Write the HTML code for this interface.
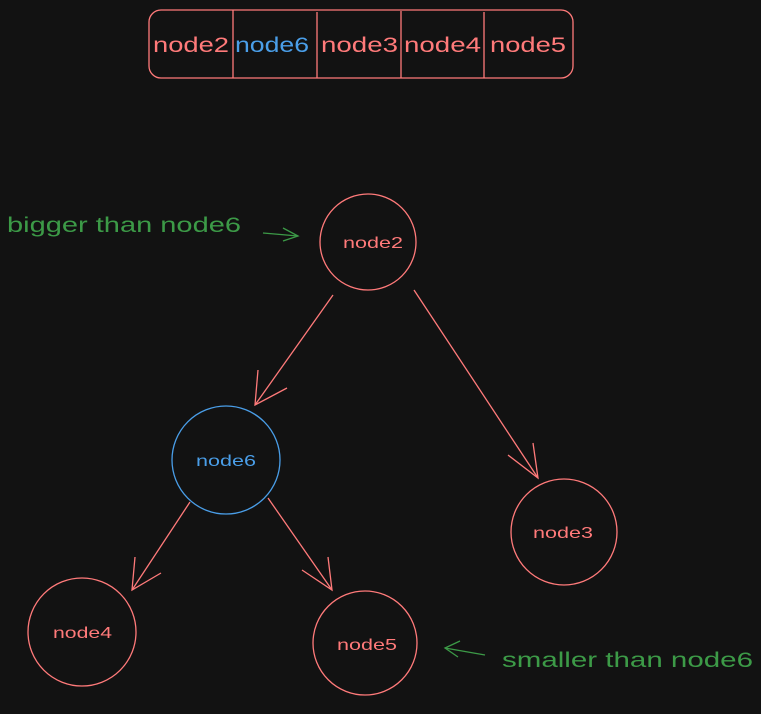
<!DOCTYPE html>
<html><head><meta charset="utf-8"><style>
html,body{margin:0;padding:0;background:#121212;}
svg{display:block}
text{font-family:"Liberation Sans",sans-serif;}
</style></head><body>
<svg width="761" height="714" viewBox="0 0 761 714" xmlns="http://www.w3.org/2000/svg">
<rect width="761" height="714" fill="#121212"/>
<g fill="none" stroke="#ff7a7a" stroke-width="1.3">
<rect x="149" y="10" width="424" height="68" rx="12"/>
<line x1="233" y1="10" x2="233" y2="78"/>
<line x1="317" y1="12" x2="317" y2="78"/>
<line x1="401" y1="11" x2="401" y2="78"/>
<line x1="484" y1="12" x2="484" y2="78"/>
<circle cx="368" cy="242" r="48"/>
<circle cx="564" cy="532" r="53"/>
<circle cx="82" cy="632" r="54"/>
<circle cx="365" cy="643" r="52"/>
<line x1="333" y1="295" x2="255" y2="405"/>
<polyline points="258,370 255,405 287,388"/>
<line x1="414" y1="290" x2="538" y2="478"/>
<polyline points="508,455 538,478 533,443"/>
<line x1="190" y1="502" x2="132" y2="590"/>
<polyline points="135,557 132,590 161,573"/>
<line x1="268" y1="498" x2="332" y2="590"/>
<polyline points="302,570 332,590 328,557"/>
</g>
<circle cx="226" cy="460" r="54" fill="none" stroke="#4a9ee8" stroke-width="1.3"/>
<g fill="none" stroke="#3c9a47" stroke-width="1.3">
<line x1="263" y1="233" x2="298" y2="236"/>
<polyline points="283,228 298,236 283,241"/>
<line x1="485" y1="655" x2="445" y2="648"/>
<polyline points="460,641 445,648 458,657"/>
</g>
<g font-size="21" fill="#ff7a7a">
<text x="153" y="52" textLength="76" lengthAdjust="spacingAndGlyphs">node2</text>
<text x="235" y="52" fill="#4a9ee8" textLength="74" lengthAdjust="spacingAndGlyphs">node6</text>
<text x="321" y="52" textLength="77" lengthAdjust="spacingAndGlyphs">node3</text>
<text x="404" y="52" textLength="77" lengthAdjust="spacingAndGlyphs">node4</text>
<text x="490" y="52" textLength="76" lengthAdjust="spacingAndGlyphs">node5</text>
</g>
<g font-size="16" fill="#ff7a7a">
<text x="343" y="248" textLength="60" lengthAdjust="spacingAndGlyphs">node2</text>
<text x="196" y="466" fill="#4a9ee8" textLength="60" lengthAdjust="spacingAndGlyphs">node6</text>
<text x="533" y="538" textLength="60" lengthAdjust="spacingAndGlyphs">node3</text>
<text x="53" y="638" textLength="59" lengthAdjust="spacingAndGlyphs">node4</text>
<text x="337" y="650" textLength="60" lengthAdjust="spacingAndGlyphs">node5</text>
</g>
<g font-size="21" fill="#3c9a47">
<text x="7" y="232" textLength="234" lengthAdjust="spacingAndGlyphs">bigger than node6</text>
<text x="502" y="667" textLength="251" lengthAdjust="spacingAndGlyphs">smaller than node6</text>
</g>
</svg>
</body></html>
